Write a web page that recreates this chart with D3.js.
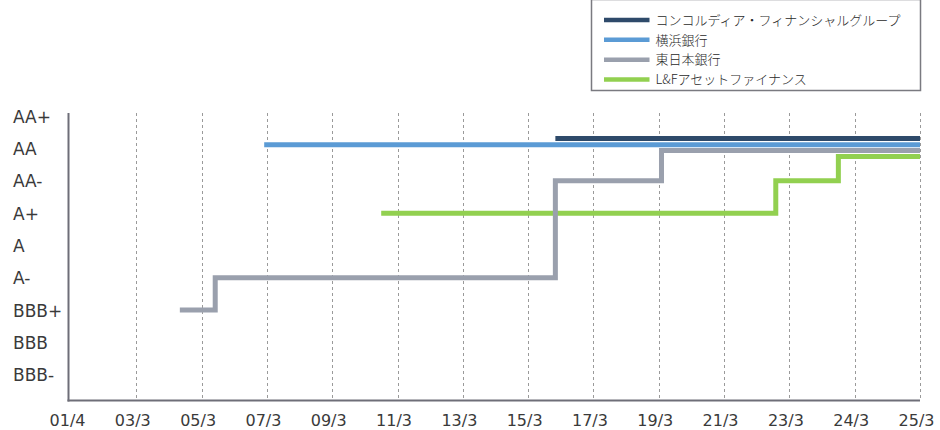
<!DOCTYPE html>
<html>
<head>
<meta charset="utf-8">
<script src="https://cdn.jsdelivr.net/npm/d3@7"></script>
<style>
  html, body { margin: 0; padding: 0; background: #fff; }
  svg { display: block; }
</style>
</head>
<body>
<svg id="chart" width="940" height="430"></svg>
<script>
// ---- data ----
const ratingLabels = ["BBB-", "BBB", "BBB+", "A-", "A", "A+", "AA-", "AA", "AA+"];
const tickDates  = ["2001-04","2003-03","2005-03","2007-03","2009-03","2011-03","2013-03","2015-03","2017-03","2019-03","2021-03","2023-03","2024-03","2025-03"];
const tickLabels = ["01/4","03/3","05/3","07/3","09/3","11/3","13/3","15/3","17/3","19/3","21/3","23/3","24/3","25/3"];

const seriesNames = ["コンコルディア・フィナンシャルグループ", "横浜銀行", "東日本銀行", "L&Fアセットファイナンス"];
const seriesColors = ["#2e4a6a", "#5b9bd5", "#9aa0ad", "#92d050"];

// rating index (BBB- = 0 ... AA+ = 8), as plotted
const concordiaDates  = ["2016-01", "2025-03"];
const concordiaValues = [7.31, 7.31];
const yokohamaDates   = ["2007-02", "2025-03"];
const yokohamaValues  = [7.12, 7.12];
const higashiDates    = ["2004-07", "2005-08", "2016-01", "2019-04", "2025-03"];
const higashiValues   = [2, 3, 6, 6.94, 6.94];
const lfDates         = ["2010-09", "2022-10", "2023-12", "2025-03"];
const lfValues        = [5, 6, 6.75, 6.75];

// ---- helpers ----
const toYear = s => { const [y, m] = s.split("-").map(Number); return y + (m - 1) / 12; };

const series = [
  { name: seriesNames[0], color: seriesColors[0], dates: concordiaDates, values: concordiaValues },
  { name: seriesNames[1], color: seriesColors[1], dates: yokohamaDates,  values: yokohamaValues },
  { name: seriesNames[2], color: seriesColors[2], dates: higashiDates,   values: higashiValues },
  { name: seriesNames[3], color: seriesColors[3], dates: lfDates,        values: lfValues }
];

// ---- layout ----
const plotLeft = 68.5, plotRight = 920, plotTop = 113, plotBottom = 400.5;
const firstTick = 71, tickStep = (plotRight - firstTick) / (tickDates.length - 1);
const latinFont = "'DejaVu Sans', sans-serif";

const svg = d3.select("#chart");

const x = d3.scaleLinear()
  .domain(tickDates.map(toYear))
  .range(tickDates.map((d, i) => firstTick + i * tickStep));

const y = d3.scaleLinear()
  .domain([-0.8, 8.1])
  .range([plotBottom, plotTop]);

// gridlines
svg.append("g")
  .selectAll("line")
  .data(tickDates.slice(1))
  .join("line")
  .attr("x1", d => Math.round(x(toYear(d))) + 0.5)
  .attr("x2", d => Math.round(x(toYear(d))) + 0.5)
  .attr("y1", plotTop)
  .attr("y2", plotBottom - 1)
  .attr("stroke", "#9a9a9a")
  .attr("stroke-width", 1)
  .attr("stroke-dasharray", "3,3");

// x axis labels
const xAxis = d3.axisBottom(x)
  .tickValues(tickDates.map(toYear))
  .tickFormat((d, i) => tickLabels[i])
  .tickSize(0)
  .tickPadding(0);
const gx = svg.append("g")
  .attr("transform", `translate(0,${plotBottom})`)
  .call(xAxis);
gx.select(".domain").remove();
gx.selectAll("text")
  .attr("dy", null)
  .attr("y", 25.5)
  .attr("dx", -4)
  .attr("fill", "#3a3a3a")
  .style("font-family", latinFont)
  .style("font-size", "16px");

// y axis labels
const yAxis = d3.axisLeft(y)
  .tickValues(d3.range(ratingLabels.length))
  .tickFormat(i => ratingLabels[i])
  .tickSize(0);
const gy = svg.append("g").call(yAxis);
gy.select(".domain").remove();
gy.selectAll("text")
  .attr("x", 13)
  .attr("dy", "0.36em")
  .attr("text-anchor", "start")
  .attr("fill", "#3a3a3a")
  .style("font-family", latinFont)
  .style("font-size", "17px");

// axis lines
svg.append("line")
  .attr("x1", plotLeft).attr("x2", plotLeft)
  .attr("y1", plotTop).attr("y2", plotBottom + 1)
  .attr("stroke", "#6e6e78").attr("stroke-width", 2);
svg.append("line")
  .attr("x1", plotLeft - 1).attr("x2", plotRight)
  .attr("y1", plotBottom).attr("y2", plotBottom)
  .attr("stroke", "#6e6e78").attr("stroke-width", 2);

// series lines
const line = d3.line()
  .x(d => x(d[0]))
  .y(d => y(d[1]))
  .curve(d3.curveStepAfter);

const drawOrder = [3, 2, 1, 0];
svg.append("g")
  .selectAll("path")
  .data(drawOrder.map(i => series[i]))
  .join("path")
  .attr("d", s => line(s.dates.map((d, i) => [toYear(d), s.values[i]])))
  .attr("fill", "none")
  .attr("stroke", s => s.color)
  .attr("stroke-width", 5)
  .attr("stroke-linejoin", "miter")
  .attr("stroke-linecap", "butt");

// legend
const lgX = 591, lgY = -1, lgW = 329, lgH = 91;
const legend = svg.append("g");
legend.append("rect")
  .attr("x", lgX + 0.5).attr("y", lgY + 0.5)
  .attr("width", lgW).attr("height", lgH)
  .attr("fill", "#fff")
  .attr("stroke", "#7a7a80")
  .attr("stroke-width", 1.5);
const rowY = d3.scaleLinear().domain([0, 3]).range([20, 79.5]);
const items = legend.selectAll("g.item")
  .data(series)
  .join("g")
  .attr("class", "item")
  .attr("transform", (d, i) => `translate(${lgX},${rowY(i)})`);
items.append("line")
  .attr("x1", 13).attr("x2", 58.5)
  .attr("stroke", d => d.color)
  .attr("stroke-width", 4.5);
items.append("text")
  .attr("x", 64.5)
  .attr("dy", "0.36em")
  .attr("fill", "#2a2a2a")
  .style("font-family", "'Noto Sans CJK JP', sans-serif")
  .style("font-weight", 300)
  .style("font-size", "13px")
  .text(d => d.name);
</script>
</body>
</html>
